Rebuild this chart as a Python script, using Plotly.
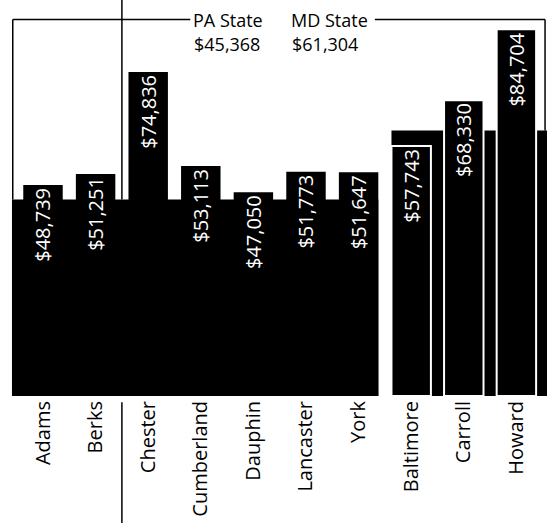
import plotly.graph_objects as go

# Median household income by county
pa_counties = ["Adams", "Berks", "Chester", "Cumberland", "Dauphin", "Lancaster", "York"]
pa_incomes = [48739, 51251, 74836, 53113, 47050, 51773, 51647]
md_counties = ["Baltimore", "Carroll", "Howard"]
md_incomes = [57743, 68330, 84704]

# Statewide medians
pa_state = 45368
md_state = 61304

FONT = "Open Sans"
Y_MAX = 91455
BAR_W = 0.75
H_PLOT = 396  # plot area height in px, used to place the bracket tops

counties = pa_counties + md_counties
y_bracket = Y_MAX * (1 - 19.5 / H_PLOT)


def money(v):
    return f"${v:,}"


fig = go.Figure()

fig.add_trace(go.Bar(
    x=pa_counties, y=pa_incomes, width=BAR_W,
    marker=dict(color="black", line=dict(width=0)),
    text=[money(v) for v in pa_incomes],
    textposition="inside", insidetextanchor="end", textangle=-90,
    constraintext="none",
    textfont=dict(family=FONT, size=20, color="white"),
    hoverinfo="skip",
))
fig.add_trace(go.Bar(
    x=md_counties, y=md_incomes, width=BAR_W,
    marker=dict(color="black", line=dict(width=2, color="white")),
    text=[money(v) for v in md_incomes],
    textposition="inside", insidetextanchor="end", textangle=-90,
    constraintext="none",
    textfont=dict(family=FONT, size=20, color="white"),
    hoverinfo="skip",
))

shapes = []
# state-level bands behind the county bars
shapes.append(dict(type="rect", xref="x", yref="y", layer="below",
                   x0=-0.59, x1=6 + BAR_W / 2, y0=0, y1=pa_state,
                   fillcolor="black", line=dict(width=0)))
shapes.append(dict(type="rect", xref="x", yref="y", layer="below",
                   x0=7 - BAR_W / 2, x1=9.6, y0=0, y1=md_state,
                   fillcolor="black", line=dict(width=0)))

# divider between Berks and Chester
shapes.append(dict(type="line", xref="x", yref="paper", layer="below",
                   x0=1.5, x1=1.5, y0=pa_state / Y_MAX, y1=1,
                   line=dict(color="black", width=1.5)))
shapes.append(dict(type="line", xref="x", yref="paper", layer="below",
                   x0=1.5, x1=1.5, y0=-0.016, y1=-0.33,
                   line=dict(color="black", width=1.5)))

# PA State bracket
shapes.append(dict(type="line", xref="x", yref="y", layer="below",
                   x0=-0.575, x1=-0.575, y0=pa_state, y1=y_bracket,
                   line=dict(color="black", width=1.5)))
shapes.append(dict(type="line", xref="x", yref="y", layer="below",
                   x0=-0.575, x1=2.8, y0=y_bracket, y1=y_bracket,
                   line=dict(color="black", width=1.5)))

# MD State bracket
shapes.append(dict(type="line", xref="x", yref="y", layer="below",
                   x0=6.31, x1=9.545, y0=y_bracket, y1=y_bracket,
                   line=dict(color="black", width=1.5)))
shapes.append(dict(type="line", xref="x", yref="y", layer="below",
                   x0=9.545, x1=9.545, y0=y_bracket, y1=md_state,
                   line=dict(color="black", width=1.5)))

annotations = []
for x_px, label, value in [(191, "PA State", pa_state), (289, "MD State", md_state)]:
    annotations.append(dict(xref="paper", yref="paper", x=x_px / 547, y=1 - 20 / H_PLOT,
                            xanchor="left", yanchor="middle", showarrow=False,
                            text=label, font=dict(family=FONT, size=18, color="black")))
    annotations.append(dict(xref="paper", yref="paper", x=(x_px + 1) / 547, y=1 - 44 / H_PLOT,
                            xanchor="left", yanchor="middle", showarrow=False,
                            text=money(value), font=dict(family=FONT, size=18, color="black")))

fig.update_layout(
    width=547, height=523,
    margin=dict(l=0, r=0, t=0, b=127),
    paper_bgcolor="white", plot_bgcolor="white",
    showlegend=False, barmode="overlay",
    shapes=shapes, annotations=annotations,
    xaxis=dict(categoryorder="array", categoryarray=counties,
               range=[-0.8175, 9.582], tickangle=-90, ticks="",
               showline=False, showgrid=False, zeroline=False,
               tickfont=dict(family=FONT, size=20, color="black")),
    yaxis=dict(range=[0, Y_MAX], visible=False, showgrid=False, zeroline=False),
)

fig.write_html("out.html")
